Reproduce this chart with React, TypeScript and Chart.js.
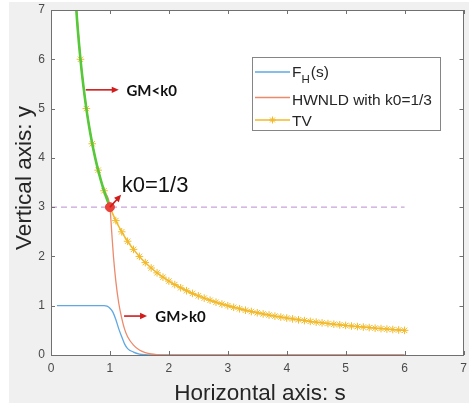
import { useEffect, useRef } from 'react';
import { Chart, registerables } from 'chart.js';
Chart.register(...registerables);

// ---- data ----
const xTicks = [0, 1, 2, 3, 4, 5, 6, 7];
const yTicks = [0, 1, 2, 3, 4, 5, 6, 7];

// F_H(s)
const fhS = [0.1, 0.5, 0.9, 0.95, 1.0, 1.05, 1.1, 1.15, 1.2, 1.25, 1.3, 1.4, 1.5, 1.6, 1.7, 2.0, 6.0];
const fhY = [1, 1, 1, 0.99, 0.95, 0.87, 0.72, 0.53, 0.37, 0.22, 0.13, 0.06, 0.02, 0.005, 0, 0, 0];

// HWNLD with k0=1/3
const hwS = [0.4, 0.5, 0.6, 0.7, 0.8, 0.9, 1.0, 1.03, 1.06, 1.1, 1.15, 1.2, 1.25, 1.3, 1.4, 1.5, 1.6, 1.7, 1.8, 2.0, 3, 4, 5, 6];
const hwY = [7.5, 6, 5, 4.286, 3.75, 3.333, 3, 2.5, 2.0, 1.5, 1.05, 0.75, 0.52, 0.37, 0.2, 0.1, 0.05, 0.02, 0.008, 0, 0, 0, 0, 0];

// TV
const tvS = [0.4, 0.5, 0.6, 0.7, 0.8, 0.9, 1.0, 1.1, 1.2, 1.3, 1.4, 1.5, 1.6, 1.7, 1.8, 1.9,
  2.0, 2.1, 2.2, 2.3, 2.4, 2.5, 2.6, 2.7, 2.8, 2.9, 3.0, 3.1, 3.2, 3.3, 3.4, 3.5, 3.6, 3.7, 3.8, 3.9,
  4.0, 4.1, 4.2, 4.3, 4.4, 4.5, 4.6, 4.7, 4.8, 4.9, 5.0, 5.1, 5.2, 5.3, 5.4, 5.5, 5.6, 5.7, 5.8, 5.9, 6.0];
const tvY = [7.5, 6, 5, 4.286, 3.75, 3.333, 3, 2.727, 2.5, 2.308, 2.143, 2, 1.875, 1.765, 1.667, 1.579,
  1.5, 1.429, 1.364, 1.304, 1.25, 1.2, 1.154, 1.111, 1.071, 1.034, 1, 0.968, 0.938, 0.909, 0.882, 0.857, 0.833, 0.811, 0.789, 0.769,
  0.75, 0.732, 0.714, 0.698, 0.682, 0.667, 0.652, 0.638, 0.625, 0.612, 0.6, 0.588, 0.577, 0.566, 0.556, 0.545, 0.536, 0.526, 0.517, 0.508, 0.5];

// GM<k0 region (green)
const gmS = [0.4, 0.45, 0.5, 0.55, 0.6, 0.65, 0.7, 0.75, 0.8, 0.85, 0.9, 0.95, 1.0];
const gmY = [7.5, 6.667, 6, 5.455, 5, 4.615, 4.286, 4, 3.75, 3.529, 3.333, 3.158, 3];

// k0 dashed level and point
const k0LineS = [0, 6];
const k0LineY = [3, 3];
const k0PointS = [1];
const k0PointY = [3];

const toXY = (xs: number[], ys: number[]) => xs.map((x, i) => ({ x, y: ys[i] }));

const C_BLUE = '#5fa8e2';
const C_ORANGE = '#ec8a6c';
const C_YELLOW = '#f2b92a';
const C_GREEN = '#56c93a';
const C_PURPLE = '#c9a3d9';
const C_RED = '#e8403a';
const C_ARROW = '#d01c1c';
const TEXT = '#262626';
const FONT = '"Liberation Sans", Arial, sans-serif';

function arrow(ctx: CanvasRenderingContext2D, x1: number, y1: number, x2: number, y2: number) {
  const ang = Math.atan2(y2 - y1, x2 - x1);
  const hl = 7, hw = 3.2;
  ctx.save();
  ctx.strokeStyle = C_ARROW;
  ctx.fillStyle = C_ARROW;
  ctx.lineWidth = 1.6;
  ctx.beginPath();
  ctx.moveTo(x1, y1);
  ctx.lineTo(x2 - Math.cos(ang) * hl * 0.8, y2 - Math.sin(ang) * hl * 0.8);
  ctx.stroke();
  ctx.beginPath();
  ctx.moveTo(x2, y2);
  ctx.lineTo(x2 - Math.cos(ang) * hl - Math.sin(ang) * hw, y2 - Math.sin(ang) * hl + Math.cos(ang) * hw);
  ctx.lineTo(x2 - Math.cos(ang) * hl + Math.sin(ang) * hw, y2 - Math.sin(ang) * hl - Math.cos(ang) * hw);
  ctx.closePath();
  ctx.fill();
  ctx.restore();
}

export default function App() {
  const ref = useRef<HTMLCanvasElement | null>(null);
  useEffect(() => {
    if (!ref.current) return;
    const plugin = {
      id: 'matlabStyle',
      beforeDraw(chart: any) {
        const { ctx, chartArea: a, width, height } = chart;
        ctx.save();
        ctx.fillStyle = '#ffffff';
        ctx.fillRect(0, 0, width, height);
        ctx.fillStyle = '#f0f0f0';
        ctx.fillRect(9, 2, width - 9, 401);
        ctx.fillStyle = '#ffffff';
        ctx.fillRect(a.left, a.top, a.right - a.left, a.bottom - a.top);
        ctx.restore();
      },
      afterDraw(chart: any) {
        const { ctx, chartArea: a } = chart;
        const xs = chart.scales.x;
        const ys = chart.scales.y;
        ctx.save();
        // box
        ctx.strokeStyle = '#707070';
        ctx.lineWidth = 1;
        ctx.strokeRect(Math.round(a.left) + 0.5, Math.round(a.top) + 0.5, Math.round(a.right - a.left) - 1, Math.round(a.bottom - a.top));
        // ticks inside
        const tl = 4;
        ctx.beginPath();
        xTicks.forEach((t) => {
          const px = Math.round(xs.getPixelForValue(t)) + 0.5;
          ctx.moveTo(px, a.bottom); ctx.lineTo(px, a.bottom - tl);
          ctx.moveTo(px, a.top); ctx.lineTo(px, a.top + tl);
        });
        yTicks.forEach((t) => {
          const py = Math.round(ys.getPixelForValue(t)) + 0.5;
          ctx.moveTo(a.left, py); ctx.lineTo(a.left + tl, py);
          ctx.moveTo(a.right, py); ctx.lineTo(a.right - tl, py);
        });
        ctx.stroke();
        // tick labels
        ctx.fillStyle = '#4a4a4a';
        ctx.font = `12px ${FONT}`;
        ctx.textAlign = 'center';
        ctx.textBaseline = 'middle';
        xTicks.forEach((t) => {
          ctx.fillText(String(t), xs.getPixelForValue(t), a.bottom + 14);
        });
        ctx.textAlign = 'right';
        yTicks.forEach((t) => {
          ctx.fillText(String(t), a.left - 6, ys.getPixelForValue(t));
        });
        // axis titles
        ctx.fillStyle = TEXT;
        ctx.font = `22.5px ${FONT}`;
        ctx.textAlign = 'center';
        ctx.textBaseline = 'alphabetic';
        ctx.fillText('Horizontal axis: s', 260, 400);
        ctx.save();
        ctx.translate(31, 178);
        ctx.rotate(-Math.PI / 2);
        ctx.fillText('Vertical axis: y', 0, 0);
        ctx.restore();

        // annotations
        const p = (x: number, y: number) => [xs.getPixelForValue(x), ys.getPixelForValue(y)];
        let [ax1, ay1] = p(0.59, 5.38);
        let [ax2] = p(1.15, 5.38);
        arrow(ctx, ax1, ay1, ax2, ay1);
        ctx.fillStyle = '#111';
        ctx.font = `bold 15px Lato, ${FONT}`;
        ctx.textAlign = 'left';
        ctx.textBaseline = 'middle';
        let [tx] = p(1.28, 5.38);
        ctx.fillText('GM<k0', tx, ay1 + 1);

        [ax1, ay1] = p(1.24, 0.79);
        [ax2] = p(1.63, 0.79);
        arrow(ctx, ax1, ay1, ax2, ay1);
        [tx] = p(1.77, 0.79);
        ctx.fillText('GM>k0', tx, ay1 + 1);

        const [kx1, ky1] = p(1, 3);
        const [kx2, ky2] = p(1.19, 3.25);
        arrow(ctx, kx1, ky1, kx2, ky2);
        ctx.fillStyle = '#111';
        ctx.font = `22px ${FONT}`;
        ctx.textBaseline = 'alphabetic';
        const [ktx, kty] = p(1.2, 3.31);
        ctx.fillText('k0=1/3', ktx, kty);

        // legend
        const lx = 252, ly = 57, lw = 188, lh = 73;
        ctx.fillStyle = '#ffffff';
        ctx.fillRect(lx, ly, lw, lh);
        ctx.strokeStyle = '#858585';
        ctx.lineWidth = 1;
        ctx.strokeRect(lx + 0.5, ly + 0.5, lw, lh);
        const rows = [
          { y: 72, color: C_BLUE, marker: false },
          { y: 97.5, color: C_ORANGE, marker: false },
          { y: 120, color: C_YELLOW, marker: true },
        ];
        rows.forEach((r) => {
          ctx.strokeStyle = r.color;
          ctx.lineWidth = 1.3;
          ctx.beginPath();
          ctx.moveTo(255, r.y); ctx.lineTo(290, r.y);
          ctx.stroke();
          if (r.marker) {
            const cx = 272.5, cy = r.y, rr = 3.5;
            ctx.lineWidth = 1;
            ctx.beginPath();
            ctx.moveTo(cx - rr, cy); ctx.lineTo(cx + rr, cy);
            ctx.moveTo(cx, cy - rr); ctx.lineTo(cx, cy + rr);
            ctx.moveTo(cx - rr * 0.7, cy - rr * 0.7); ctx.lineTo(cx + rr * 0.7, cy + rr * 0.7);
            ctx.moveTo(cx - rr * 0.7, cy + rr * 0.7); ctx.lineTo(cx + rr * 0.7, cy - rr * 0.7);
            ctx.stroke();
          }
        });
        ctx.fillStyle = TEXT;
        ctx.textAlign = 'left';
        ctx.textBaseline = 'alphabetic';
        ctx.font = `15.5px ${FONT}`;
        ctx.fillText('F', 292, 77);
        const fw = ctx.measureText('F').width;
        ctx.font = `11.5px ${FONT}`;
        ctx.fillText('H', 292 + fw, 83);
        const hw = ctx.measureText('H').width;
        ctx.font = `15.5px ${FONT}`;
        ctx.fillText('(s)', 292 + fw + hw + 1, 77);
        ctx.fillText('HWNLD with k0=1/3', 292, 104.5);
        ctx.fillText('TV', 292, 126);
        ctx.restore();
      },
    };

    const chart = new Chart(ref.current, {
      type: 'scatter',
      data: {
        datasets: [
          {
            label: 'k0 point',
            data: toXY(k0PointS, k0PointY),
            pointRadius: 4.5,
            pointBackgroundColor: C_RED,
            pointBorderColor: C_RED,
            showLine: false,
            order: 0,
          },
          {
            label: 'GM<k0',
            data: toXY(gmS, gmY),
            showLine: true,
            borderColor: C_GREEN,
            borderWidth: 2.6,
            pointRadius: 0,
            cubicInterpolationMode: 'monotone',
            order: 1,
          },
          {
            label: 'k0 level',
            data: toXY(k0LineS, k0LineY),
            showLine: true,
            borderColor: C_PURPLE,
            borderWidth: 1.4,
            borderDash: [6, 4],
            pointRadius: 0,
            order: 3,
          },
          {
            label: 'TV',
            data: toXY(tvS, tvY),
            showLine: true,
            borderColor: C_YELLOW,
            borderWidth: 1.5,
            pointStyle: 'star',
            pointRadius: 3.8,
            pointBorderColor: C_YELLOW,
            pointBackgroundColor: C_YELLOW,
            pointBorderWidth: 1,
            cubicInterpolationMode: 'monotone',
            order: 2,
          },
          {
            label: 'HWNLD with k0=1/3',
            data: toXY(hwS, hwY),
            showLine: true,
            borderColor: C_ORANGE,
            borderWidth: 1.3,
            pointRadius: 0,
            cubicInterpolationMode: 'monotone',
            order: 4,
          },
          {
            label: 'F_H(s)',
            data: toXY(fhS, fhY),
            showLine: true,
            borderColor: C_BLUE,
            borderWidth: 1.3,
            pointRadius: 0,
            cubicInterpolationMode: 'monotone',
            order: 5,
          },
        ],
      },
      options: {
        responsive: false,
        animation: false,
        events: [],
        layout: { padding: { left: 51, top: 10, right: 1, bottom: 54 } },
        plugins: { legend: { display: false }, tooltip: { enabled: false } },
        scales: {
          x: { type: 'linear', min: 0, max: 7, display: false },
          y: { type: 'linear', min: 0, max: 7, display: false },
        },
      },
      plugins: [plugin],
    } as any);
    return () => chart.destroy();
  }, []);

  return (
    <div style={{ position: 'fixed', left: 0, top: 0, width: 469, height: 409, background: '#fff' }}>
      <canvas ref={ref} width={469} height={409} style={{ display: 'block', width: 469, height: 409 }} />
    </div>
  );
}
